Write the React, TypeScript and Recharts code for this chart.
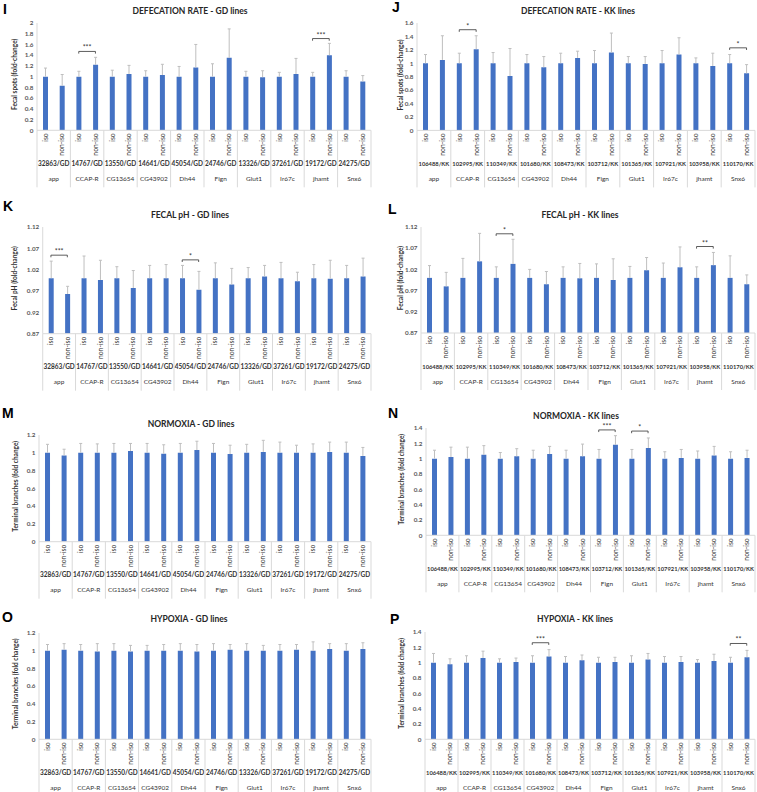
import React from 'react';
import { BarChart, Bar, XAxis, YAxis, ReferenceLine } from 'recharts';

// shared categories
const genes = ['app', 'CCAP-R', 'CG13654', 'CG43902', 'Dh44', 'Fign', 'Glut1', 'Ir67c', 'jhamt', 'Snx6'];
const gdLines = ['32863/GD', '14767/GD', '13550/GD', '14641/GD', '45054/GD', '24746/GD', '13326/GD', '37261/GD', '19172/GD', '24275/GD'];
const kkLines = ['106488/KK', '102995/KK', '110349/KK', '101680/KK', '108473/KK', '103712/KK', '101365/KK', '107921/KK', '103958/KK', '110170/KK'];
const conditions = ['iso', 'non-iso'];
const isoMean = [1, 1, 1, 1, 1, 1, 1, 1, 1, 1];

// I - defecation rate, GD
const defGdIsoSd = [0.16, 0.1, 0.12, 0.11, 0.19, 0.24, 0.1, 0.08, 0.08, 0.11];
const defGdNonMean = [0.83, 1.22, 1.05, 1.03, 1.17, 1.35, 0.99, 1.05, 1.4, 0.91];
const defGdNonSd = [0.21, 0.14, 0.16, 0.2, 0.43, 0.54, 0.12, 0.29, 0.22, 0.11];
const defGdSig = [{ gene: 'CCAP-R', stars: '***', y: 1.47 }, { gene: 'jhamt', stars: '***', y: 1.71 }];
const defGdTicks = [0, 0.2, 0.4, 0.6, 0.8, 1, 1.2, 1.4, 1.6, 1.8, 2];

// J - defecation rate, KK
const defKkIsoSd = [0.13, 0.15, 0.16, 0.13, 0.15, 0.19, 0.1, 0.19, 0.08, 0.13];
const defKkNonMean = [1.05, 1.21, 0.81, 0.94, 1.08, 1.16, 0.99, 1.13, 0.96, 0.85];
const defKkNonSd = [0.36, 0.2, 0.41, 0.16, 0.1, 0.29, 0.11, 0.25, 0.19, 0.13];
const defKkSig = [{ gene: 'CCAP-R', stars: '*', y: 1.5 }, { gene: 'Snx6', stars: '*', y: 1.23 }];
const defKkTicks = [0, 0.2, 0.4, 0.6, 0.8, 1, 1.2, 1.4, 1.6];

// K - fecal pH, GD
const phGdIsoSd = [0.04, 0.052, 0.027, 0.03, 0.03, 0.036, 0.025, 0.037, 0.032, 0.03];
const phGdNonMean = [0.963, 0.996, 0.977, 1.0, 0.973, 0.985, 1.004, 0.993, 0.999, 1.004];
const phGdNonSd = [0.018, 0.046, 0.041, 0.032, 0.043, 0.038, 0.026, 0.021, 0.043, 0.043];
const phGdSig = [{ gene: 'app', stars: '***', y: 1.054 }, { gene: 'Dh44', stars: '*', y: 1.043 }];

// L - fecal pH, KK
const phKkIsoSd = [0.029, 0.046, 0.026, 0.02, 0.026, 0.033, 0.027, 0.035, 0.026, 0.052];
const phKkNonMean = [0.98, 1.039, 1.033, 0.985, 0.999, 0.995, 1.018, 1.025, 1.03, 0.985];
const phKkNonSd = [0.033, 0.066, 0.058, 0.03, 0.035, 0.05, 0.03, 0.048, 0.03, 0.022];
const phKkSig = [{ gene: 'CG13654', stars: '*', y: 1.104 }, { gene: 'jhamt', stars: '**', y: 1.074 }];
const phTicks = [0.87, 0.92, 0.97, 1.02, 1.07, 1.12];

// M - normoxia, GD
const norGdIsoSd = [0.095, 0.105, 0.105, 0.105, 0.105, 0.105, 0.095, 0.12, 0.1, 0.12];
const norGdNonMean = [0.97, 1.0, 1.02, 0.99, 1.03, 0.985, 1.01, 1.0, 1.01, 0.965];
const norGdNonSd = [0.07, 0.1, 0.085, 0.1, 0.1, 0.1, 0.13, 0.085, 0.11, 0.095];

// N - normoxia, KK
const norKkIsoSd = [0.11, 0.15, 0.08, 0.11, 0.11, 0.12, 0.12, 0.09, 0.1, 0.09];
const norKkNonMean = [1.02, 1.05, 1.03, 1.06, 1.03, 1.18, 1.14, 1.01, 1.04, 1.01];
const norKkNonSd = [0.13, 0.12, 0.1, 0.1, 0.16, 0.12, 0.13, 0.11, 0.12, 0.1];
const norKkSig = [{ gene: 'Fign', stars: '***', y: 1.375 }, { gene: 'Glut1', stars: '*', y: 1.36 }];

// O - hypoxia, GD
const hypGdIsoSd = [0.07, 0.07, 0.08, 0.06, 0.08, 0.08, 0.08, 0.07, 0.1, 0.08];
const hypGdNonMean = [1.01, 0.99, 0.99, 1.0, 0.99, 1.01, 1.0, 1.01, 1.02, 1.02];
const hypGdNonSd = [0.07, 0.09, 0.07, 0.07, 0.08, 0.06, 0.06, 0.06, 0.06, 0.07];

// P - hypoxia, KK
const hypKkIsoSd = [0.12, 0.09, 0.05, 0.09, 0.08, 0.07, 0.09, 0.08, 0.04, 0.07];
const hypKkNonMean = [0.98, 1.06, 1.01, 1.08, 1.03, 1.01, 1.04, 1.01, 1.02, 1.07];
const hypKkNonSd = [0.07, 0.09, 0.05, 0.09, 0.07, 0.06, 0.08, 0.07, 0.09, 0.09];
const hypKkSig = [{ gene: 'CG43902', stars: '***', y: 1.26 }, { gene: 'Snx6', stars: '**', y: 1.25 }];

const branchGdTicks = [0, 0.2, 0.4, 0.6, 0.8, 1, 1.2];
const branchKkTicks = [0, 0.2, 0.4, 0.6, 0.8, 1, 1.2, 1.4];

const BLUE = '#4472C4';
const GREY = '#d9d9d9';
const TEXT = '#333333';
const TOP_PAD = 30;
const AXIS_H = 60;

function buildRows(isoSd: number[], nonMean: number[], nonSd: number[]) {
  const rows: { key: string; mean: number; sd: number }[] = [];
  genes.forEach((g, i) => {
    rows.push({ key: `${g}|iso`, mean: isoMean[i], sd: isoSd[i] });
    rows.push({ key: `${g}|non-iso`, mean: nonMean[i], sd: nonSd[i] });
  });
  return rows;
}

const panels = [
  { letter: 'I', title: 'DEFECATION RATE - GD lines', yLabel: 'Fecal spots (fold-change)', col: 0, plotLeft: 37, plotRight: 371, plotTop: 22.7, plotBottom: 130, titleX: 190, titleY: 11, letterX: 3, letterY: 14, yLabelX: 14, ids: gdLines, idSize: 6.5, rows: buildRows(defGdIsoSd, defGdNonMean, defGdNonSd), domain: [0, 2], ticks: defGdTicks, sig: defGdSig },
  { letter: 'J', title: 'DEFECATION RATE - KK lines', yLabel: 'Fecal spots (fold-change)', col: 378, plotLeft: 417, plotRight: 755, plotTop: 23.3, plotBottom: 130.7, titleX: 578, titleY: 11, letterX: 392, letterY: 12, yLabelX: 400, ids: kkLines, idSize: 5.8, rows: buildRows(defKkIsoSd, defKkNonMean, defKkNonSd), domain: [0, 1.6], ticks: defKkTicks, sig: defKkSig },
  { letter: 'K', title: 'FECAL pH - GD lines', yLabel: 'Fecal pH (fold-change)', col: 0, plotLeft: 42.7, plotRight: 371, plotTop: 227, plotBottom: 333.7, titleX: 190, titleY: 214.7, letterX: 3, letterY: 211, yLabelX: 14, ids: gdLines, idSize: 6.5, rows: buildRows(phGdIsoSd, phGdNonMean, phGdNonSd), domain: [0.87, 1.12], ticks: phTicks, sig: phGdSig },
  { letter: 'L', title: 'FECAL pH - KK lines', yLabel: 'Fecal pH (fold-change)', col: 378, plotLeft: 421, plotRight: 755, plotTop: 227, plotBottom: 333, titleX: 580, titleY: 214.7, letterX: 388, letterY: 214, yLabelX: 400, ids: kkLines, idSize: 5.8, rows: buildRows(phKkIsoSd, phKkNonMean, phKkNonSd), domain: [0.87, 1.12], ticks: phTicks, sig: phKkSig },
  { letter: 'M', title: 'NORMOXIA - GD lines', yLabel: 'Terminal branches (fold change)', col: 0, plotLeft: 39, plotRight: 371, plotTop: 435, plotBottom: 541.7, titleX: 191, titleY: 424, letterX: 2, letterY: 418, yLabelX: 15, ids: gdLines, idSize: 6.5, rows: buildRows(norGdIsoSd, norGdNonMean, norGdNonSd), domain: [0, 1.2], ticks: branchGdTicks, sig: [] },
  { letter: 'N', title: 'NORMOXIA - KK lines', yLabel: 'Terminal branches (fold change)', col: 378, plotLeft: 426, plotRight: 755, plotTop: 427.7, plotBottom: 535, titleX: 576, titleY: 416, letterX: 388, letterY: 418, yLabelX: 401, ids: kkLines, idSize: 5.8, rows: buildRows(norKkIsoSd, norKkNonMean, norKkNonSd), domain: [0, 1.4], ticks: branchKkTicks, sig: norKkSig },
  { letter: 'O', title: 'HYPOXIA - GD lines', yLabel: 'Terminal branches (fold change)', col: 0, plotLeft: 39, plotRight: 371, plotTop: 632.7, plotBottom: 739, titleX: 189, titleY: 619, letterX: 2, letterY: 622, yLabelX: 15, ids: gdLines, idSize: 6.5, rows: buildRows(hypGdIsoSd, hypGdNonMean, hypGdNonSd), domain: [0, 1.2], ticks: branchGdTicks, sig: [] },
  { letter: 'P', title: 'HYPOXIA - KK lines', yLabel: 'Terminal branches (fold change)', col: 378, plotLeft: 425, plotRight: 755, plotTop: 631.7, plotBottom: 739, titleX: 575, titleY: 619, letterX: 390, letterY: 624, yLabelX: 401, ids: kkLines, idSize: 5.8, rows: buildRows(hypKkIsoSd, hypKkNonMean, hypKkNonSd), domain: [0, 1.4], ticks: branchKkTicks, sig: hypKkSig },
];

const Whisker = (props: any) => {
  const { x, y, width, height } = props;
  const cx = x + width / 2;
  return (
    <g>
      <line x1={cx} x2={cx} y1={y} y2={y + height} stroke="#bfbfbf" strokeWidth={1} />
      <line x1={cx - 1.5} x2={cx + 1.5} y1={y} y2={y} stroke="#bfbfbf" strokeWidth={1} />
    </g>
  );
};

const CategoryTick = (props: any) => {
  const { x, y, payload, index, bw, ids, idSize } = props;
  const i = payload?.index ?? index;
  const g = Math.floor(i / 2);
  return (
    <g>
      <text transform={`translate(${x},${y + 3}) rotate(-90)`} textAnchor="end" dy="0.35em" fontSize={6.8} fill={TEXT}>
        {conditions[i % 2]}
      </text>
      {i % 2 === 0 && (
        <>
          <line x1={x - bw / 2} x2={x - bw / 2} y1={y} y2={y + 57} stroke={GREY} />
          <text x={x + bw / 2} y={y + 33} textAnchor="middle" dominantBaseline="central" fontSize={idSize} fontWeight={700} fill={TEXT}>
            {ids[g]}
          </text>
          <text x={x + bw / 2} y={y + 48} textAnchor="middle" dominantBaseline="central" fontSize={6.5} fill={TEXT}>
            {genes[g]}
          </text>
        </>
      )}
      {i === genes.length * 2 - 1 && <line x1={x + bw / 2} x2={x + bw / 2} y1={y} y2={y + 57} stroke={GREY} />}
    </g>
  );
};

const Panel = ({ p }: { p: any }) => {
  const plotH = p.plotBottom - p.plotTop;
  const width = p.plotRight - p.col + 2;
  const height = TOP_PAD + plotH + AXIS_H;
  const bw = (p.plotRight - p.plotLeft) / p.rows.length;
  const drop = (p.domain[1] - p.domain[0]) * 0.02;
  const brackets = p.sig.flatMap((s: any) => {
    const a = `${s.gene}|iso`;
    const b = `${s.gene}|non-iso`;
    return [
      <ReferenceLine key={`${s.gene}-h`} ifOverflow="visible" segment={[{ x: a, y: s.y }, { x: b, y: s.y }]} stroke={TEXT} strokeWidth={0.8}
        label={{ value: s.stars, position: 'top', offset: 1, fontSize: 7, fill: TEXT }} />,
      <ReferenceLine key={`${s.gene}-l`} ifOverflow="visible" segment={[{ x: a, y: s.y }, { x: a, y: s.y - drop }]} stroke={TEXT} strokeWidth={0.8} />,
      <ReferenceLine key={`${s.gene}-r`} ifOverflow="visible" segment={[{ x: b, y: s.y }, { x: b, y: s.y - drop }]} stroke={TEXT} strokeWidth={0.8} />,
    ];
  });
  return (
    <div style={{ position: 'absolute', left: p.col, top: p.plotTop - TOP_PAD }}>
      <BarChart width={width} height={height} data={p.rows} margin={{ top: TOP_PAD, right: 2, bottom: 0, left: 0 }}>
        <XAxis dataKey="key" height={AXIS_H} interval={0} tickLine={false} tickSize={0} tickMargin={0}
          axisLine={{ stroke: GREY }}
          tick={(t: any) => <CategoryTick {...t} bw={bw} ids={p.ids} idSize={p.idSize} />} />
        <YAxis width={p.plotLeft - p.col} domain={p.domain} ticks={p.ticks} allowDataOverflow interval={0}
          tickLine={false} tickSize={0} axisLine={{ stroke: GREY }} tickMargin={3.5}
          tick={{ fontSize: 6.3, fontWeight: 700, fill: '#595959' }} />
        <Bar dataKey="mean" stackId="s" fill={BLUE} barSize={5} isAnimationActive={false} />
        <Bar dataKey="sd" stackId="s" barSize={5} isAnimationActive={false} shape={Whisker} />
        {brackets}
      </BarChart>
    </div>
  );
};

export default function App() {
  return (
    <div style={{ position: 'absolute', left: 0, top: 0, width: 757, height: 792, overflow: 'hidden', background: '#fff', fontFamily: 'Lato, sans-serif' }}>
      {panels.map((p) => <Panel key={p.letter} p={p} />)}
      <svg width={757} height={792} style={{ position: 'absolute', left: 0, top: 0, pointerEvents: 'none' }}>
        {panels.map((p) => (
          <g key={p.letter}>
            <text x={p.letterX} y={p.letterY} fontFamily="Liberation Sans, Arial, sans-serif" fontWeight={700} fontSize={14} fill="#000">{p.letter}</text>
            <text x={p.titleX} y={p.titleY} textAnchor="middle" dominantBaseline="central" fontWeight={700} fontSize={8.5} fill="#262626">{p.title}</text>
            <text transform={`translate(${p.yLabelX},${(p.plotTop + p.plotBottom) / 2 - 2}) rotate(-90)`} textAnchor="middle" dominantBaseline="central" fontWeight={700} fontSize={6.5} fill={TEXT}>{p.yLabel}</text>
          </g>
        ))}
      </svg>
    </div>
  );
}
